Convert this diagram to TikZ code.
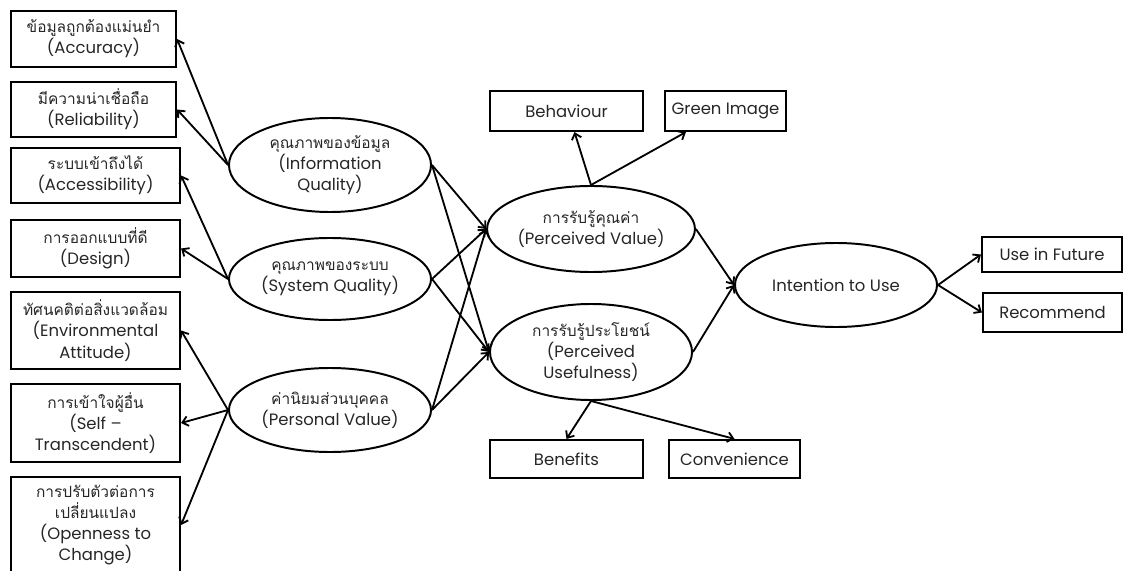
\documentclass[tikz,border=0pt]{standalone}
\usepackage{fontspec}
\setmainfont{Poppins}
\newfontfamily\thai[Script=Thai]{Loma}
\newcommand\thailine[1]{{\thai\fontsize{11}{15}\selectfont #1}}
\usetikzlibrary{positioning,arrows.meta,shapes.geometric,calc}

\begin{document}
\begin{tikzpicture}[
  x=0.025cm, y=-0.025cm,
  every node/.style={font=\fontsize{11.7}{15}\selectfont, align=center, text=black!85},
  ind/.style  ={draw, line width=1.5pt, inner sep=0pt, minimum width=4.225cm},
  res/.style  ={draw, line width=1.5pt, inner sep=0pt},
  lat/.style  ={ellipse, draw, line width=1.4pt, inner sep=0pt, minimum width=5.05cm},
  arr/.style  ={-{Straight Barb[length=4pt,width=7pt]}, line width=1.3pt},
]
\useasboundingbox (0,0) rectangle (1131,571);

%% ── Left column: indicators ─────────────────────────────────
\node[ind, minimum width=4.125cm, minimum height=1.4cm] (acc) at (93.5,39)
  {\thailine{ข้อมูลถูกต้องแม่นยำ}\\(Accuracy)};
\node[ind, minimum width=4.125cm, minimum height=1.375cm] (rel) at (93.5,109.5)
  {\thailine{มีความน่าเชื่อถือ}\\(Reliability)};
\node[ind, minimum height=1.375cm] (accs) at (95.5,175.5)
  {\thailine{ระบบเข้าถึงได้}\\(Accessibility)};
\node[ind, minimum height=1.425cm] (des) at (95.5,248.5)
  {\thailine{การออกแบบที่ดี}\\(Design)};
\node[ind, minimum height=1.925cm] (env) at (95.5,330.5)
  {\thailine{ทัศนคติต่อสิ่งแวดล้อม}\\(Environmental\\Attitude)};
\node[ind, minimum height=1.95cm] (self) at (95.5,423)
  {\thailine{การเข้าใจผู้อื่น}\\(Self –\\Transcendent)};
\node[ind, minimum height=2.4cm] (open) at (95.5,525)
  {\thailine{การปรับตัวต่อการ}\\\thailine{เปลี่ยนแปลง}\\(Openness to\\Change)};

%% ── Second column: constructs ───────────────────────────────
\node[lat, minimum height=2.35cm] (info) at (330,165)
  {\thailine{คุณภาพของข้อมูล}\\(Information\\Quality)};
\node[lat, minimum height=2.05cm] (sys) at (330,279)
  {\thailine{คุณภาพของระบบ}\\(System Quality)};
\node[lat, minimum height=2.1cm] (pers) at (330,410)
  {\thailine{ค่านิยมส่วนบุคคล}\\(Personal Value)};

\draw[arr] (info.west) -- (acc.east);
\draw[arr] (info.west) -- (rel.east);
\draw[arr] (sys.west)  -- (accs.east);
\draw[arr] (sys.west)  -- (des.east);
\draw[arr] (pers.west) -- (env.east);
\draw[arr] (pers.west) -- (self.east);
\draw[arr] (pers.west) -- (open.east);

%% ── Third column: perceived value / usefulness ──────────────
\node[lat, minimum height=2.15cm] (pv) at (591,229)
  {\thailine{การรับรู้คุณค่า}\\(Perceived Value)};
\node[lat, minimum height=2.4cm] (pu) at (591,352)
  {\thailine{การรับรู้ประโยชน์}\\(Perceived\\Usefulness)};

\node[res, minimum width=3.825cm, minimum height=1.0cm] (behav) at (566.5,111) {Behaviour};
\node[res, minimum width=3.025cm, minimum height=1.0cm] (green) at (725.5,111) {Green Image};
\node[res, minimum width=3.825cm, minimum height=0.95cm] (ben) at (566.5,459) {Benefits};
\node[res, minimum width=3.275cm, minimum height=0.95cm] (conv) at (734.5,459) {Convenience};

\foreach \src in {info,sys,pers}{
  \draw[arr] (\src.east) -- (pv.west);
  \draw[arr] (\src.east) -- (pu.west);
}
\draw[arr] (pv.north) -- ($(behav.south)+(8,0)$);
\draw[arr] (pv.north) -- ($(green.south west)+(22,0)$);
\draw[arr] (pu.south) -- (ben.north);
\draw[arr] (pu.south) -- (conv.north);

%% ── Right: intention and outcomes ───────────────────────────
\node[lat, minimum height=2.1cm] (intent) at (836,285) {Intention to Use};
\node[res, minimum width=3.5cm, minimum height=0.875cm] (future) at (1052,254.5) {Use in Future};
\node[res, minimum width=3.475cm, minimum height=0.975cm] (recom) at (1052.5,312.5) {Recommend};

\draw[arr] (pv.east) -- (intent.west);
\draw[arr] (pu.east) -- (intent.west);
\draw[arr] (intent.east) -- (future.west);
\draw[arr] (intent.east) -- (recom.west);

\end{tikzpicture}
\end{document}
